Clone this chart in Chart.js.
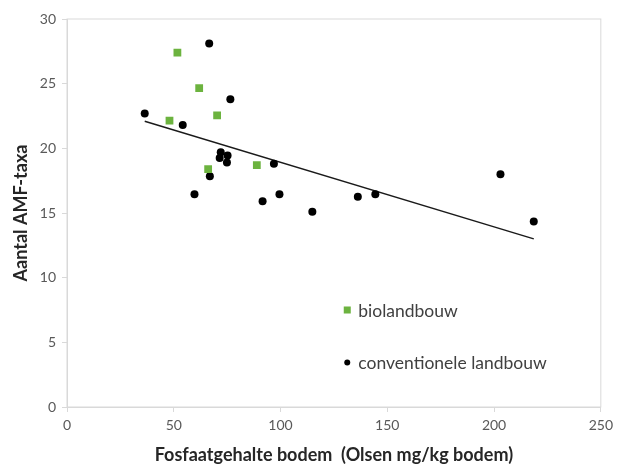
<!DOCTYPE html>
<html>
<head>
<meta charset="utf-8">
<script src="https://cdn.jsdelivr.net/npm/chart.js@4"></script>
<style>
  html, body { margin: 0; padding: 0; background: #fff; }
  #wrap { width: 618px; height: 466px; }
</style>
</head>
<body>
<div id="wrap"><canvas id="myChart"></canvas></div>
<script>
// data
const bioX = [51.7, 61.9, 48.0, 70.3, 66.1, 88.9];
const bioY = [27.4, 24.65, 22.15, 22.55, 18.4, 18.7];

const convX = [36.4, 66.6, 54.2, 76.5, 72.0, 71.5, 75.2, 74.9, 66.9, 59.7, 96.9, 91.6, 99.5, 114.9, 136.2, 144.4, 203.0, 218.6];
const convY = [22.7, 28.1, 21.8, 23.8, 19.7, 19.25, 19.45, 18.9, 17.85, 16.45, 18.8, 15.9, 16.45, 15.1, 16.25, 16.45, 18.0, 14.35];

const trendX = [36.4, 218.6];
const trendY = [22.1, 13.0];

const xTicks = [0, 50, 100, 150, 200, 250];
const yTicks = [0, 5, 10, 15, 20, 25, 30];

const toPoints = (xs, ys) => xs.map((x, i) => ({ x: x, y: ys[i] }));

const FONT = "Lato, 'Open Sans', sans-serif";

// legend inside the plot, lower right
const insideLegend = {
  id: 'insideLegend',
  afterDraw(chart) {
    const { ctx, chartArea: a } = chart;
    ctx.save();
    // frame round the plot
    ctx.strokeStyle = '#d9d9d9';
    ctx.lineWidth = 1;
    ctx.strokeRect(a.left, a.top, a.right - a.left, a.bottom - a.top);

    const items = [
      { label: 'biolandbouw', ds: chart.data.datasets[0], fy: 0.75 },
      { label: 'conventionele landbouw', ds: chart.data.datasets[1], fy: 0.885 }
    ];
    ctx.font = "17.5px " + FONT;
    ctx.textBaseline = 'middle';
    items.forEach((it) => {
      const px = a.left + (a.right - a.left) * 0.525;
      const py = a.top + (a.bottom - a.top) * it.fy;
      ctx.fillStyle = it.ds.backgroundColor;
      if (it.ds.pointStyle === 'rect') {
        ctx.fillRect(px - 3.5, py - 3.5, 7, 7);
      } else {
        ctx.beginPath();
        ctx.arc(px, py, 3, 0, Math.PI * 2);
        ctx.fill();
      }
      ctx.fillStyle = '#404040';
      ctx.fillText(it.label, px + 11, py + 1);
    });
    ctx.restore();
  }
};

const ctx = document.getElementById('myChart');
new Chart(ctx, {
  type: 'scatter',
  data: {
    datasets: [
      {
        label: 'biolandbouw',
        data: toPoints(bioX, bioY),
        pointStyle: 'rect',
        pointRadius: 5.5,
        backgroundColor: '#6cb33f',
        borderColor: '#6cb33f',
        borderWidth: 0
      },
      {
        label: 'conventionele landbouw',
        data: toPoints(convX, convY),
        pointStyle: 'circle',
        pointRadius: 4,
        backgroundColor: '#000',
        borderColor: '#000',
        borderWidth: 0
      },
      {
        label: 'trend',
        data: toPoints(trendX, trendY),
        showLine: true,
        pointRadius: 0,
        borderColor: '#1a1a1a',
        borderWidth: 1.5
      }
    ]
  },
  options: {
    responsive: true,
    maintainAspectRatio: false,
    animation: false,
    layout: { padding: { top: 19, right: 15, left: 0, bottom: 0 } },
    plugins: {
      legend: { display: false },
      tooltip: { enabled: false }
    },
    scales: {
      x: {
        type: 'linear',
        min: 0,
        max: 250,
        afterBuildTicks: (s) => { s.ticks = xTicks.map((v) => ({ value: v })); },
        afterFit: (s) => { s.height = 59; },
        border: { color: '#d9d9d9' },
        grid: { drawOnChartArea: false, drawTicks: true, tickLength: 5, color: '#d9d9d9' },
        ticks: { color: '#595959', font: { family: FONT, size: 14 }, padding: 5 },
        title: {
          display: true,
          text: 'Fosfaatgehalte bodem  (Olsen mg/kg bodem)',
          color: '#262626',
          font: { family: FONT, size: 18, weight: 'bold' },
          padding: { top: 0, bottom: 0 }
        }
      },
      y: {
        min: 0,
        max: 30,
        afterBuildTicks: (s) => { s.ticks = yTicks.map((v) => ({ value: v })); },
        afterFit: (s) => { s.width = 67; },
        border: { color: '#d9d9d9' },
        grid: { drawOnChartArea: false, drawTicks: true, tickLength: 5, color: '#d9d9d9' },
        ticks: { color: '#595959', font: { family: FONT, size: 14 }, padding: 6 },
        title: {
          display: true,
          text: 'Aantal AMF-taxa',
          color: '#262626',
          font: { family: FONT, size: 18, weight: 'bold' },
          padding: { top: 10, bottom: 0 }
        }
      }
    }
  },
  plugins: [insideLegend]
});
</script>
</body>
</html>
